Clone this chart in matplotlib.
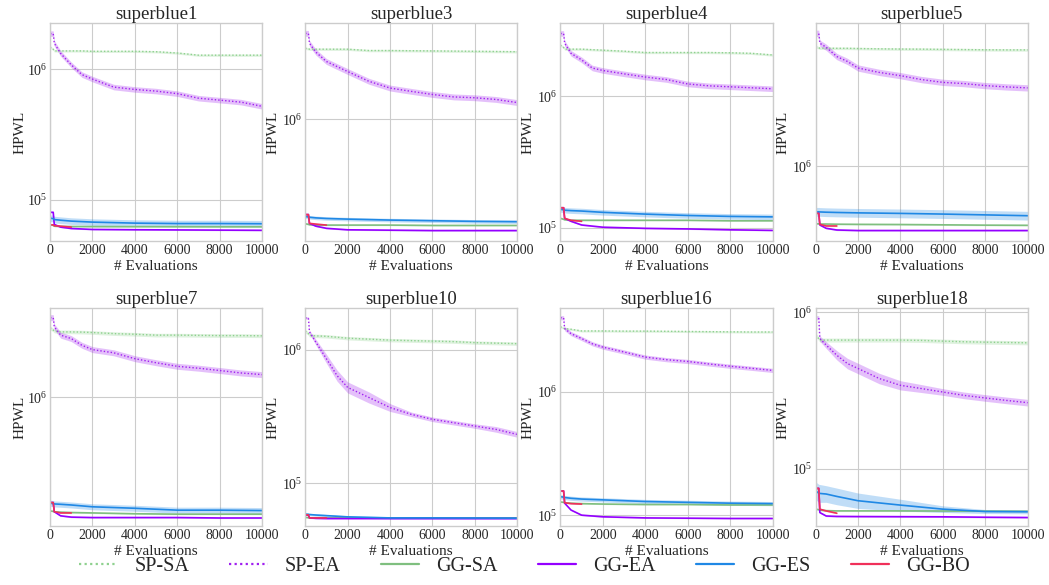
import numpy as np
import matplotlib
matplotlib.use('Agg')
import matplotlib.pyplot as plt
from matplotlib.ticker import NullFormatter

plt.style.use('seaborn-v0_8-whitegrid')
plt.rcParams['font.family'] = ['Liberation Serif', 'DejaVu Serif']
plt.rcParams['mathtext.fontset'] = 'stix'

# benchmark names (panel order)
panels = ['superblue1', 'superblue3', 'superblue4', 'superblue5',
          'superblue7', 'superblue10', 'superblue16', 'superblue18']
methods = ['SP-SA', 'SP-EA', 'GG-SA', 'GG-EA', 'GG-ES', 'GG-BO']

# evaluation checkpoints
x_sp = [0, 150, 200, 500, 1000, 1500, 2000, 3000, 4000, 5000, 6000, 7000, 8000, 9000, 10000]
x_gg = [0, 150, 200, 500, 1000, 2000, 4000, 6000, 8000, 10000]
x_bo = [0, 150, 200, 500, 1000]

# mean HPWL per panel
sp_sa = [
    [1.48e6, 1.42e6, 1.38e6, 1.38e6, 1.38e6, 1.38e6, 1.37e6, 1.37e6, 1.37e6, 1.36e6, 1.33e6, 1.28e6, 1.28e6, 1.28e6, 1.28e6],
    [3.25e6, 3.22e6, 3.2e6, 3.2e6, 3.2e6, 3.2e6, 3.2e6, 3.13e6, 3.13e6, 3.12e6, 3.11e6, 3.1e6, 3.09e6, 3.08e6, 3.07e6],
    [2.45e6, 2.35e6, 2.28e6, 2.28e6, 2.28e6, 2.26e6, 2.24e6, 2.2e6, 2.15e6, 2.15e6, 2.15e6, 2.15e6, 2.14e6, 2.12e6, 2.06e6],
    [6.37e6, 6.25e6, 6.21e6, 6.21e6, 6.2e6, 6.2e6, 6.18e6, 6.15e6, 6.13e6, 6.12e6, 6.1e6, 6.08e6, 6.06e6, 6.05e6, 6.05e6],
    [3.11e6, 3.0e6, 2.95e6, 2.91e6, 2.91e6, 2.9e6, 2.88e6, 2.83e6, 2.8e6, 2.76e6, 2.76e6, 2.75e6, 2.74e6, 2.74e6, 2.73e6],
    [1.38e6, 1.32e6, 1.28e6, 1.27e6, 1.26e6, 1.24e6, 1.22e6, 1.2e6, 1.18e6, 1.17e6, 1.16e6, 1.15e6, 1.13e6, 1.12e6, 1.11e6],
    [3.36e6, 3.28e6, 3.25e6, 3.21e6, 3.11e6, 3.11e6, 3.11e6, 3.1e6, 3.1e6, 3.09e6, 3.08e6, 3.07e6, 3.06e6, 3.05e6, 3.05e6],
    [7.16e5, 6.8e5, 6.65e5, 6.65e5, 6.65e5, 6.65e5, 6.65e5, 6.65e5, 6.65e5, 6.62e5, 6.55e5, 6.49e5, 6.45e5, 6.42e5, 6.39e5],
]
sp_ea = [
    [1.87e6, 1.87e6, 1.58e6, 1.32e6, 1.08e6, 9.1e5, 8.4e5, 7.3e5, 7.0e5, 6.8e5, 6.5e5, 6.0e5, 5.8e5, 5.6e5, 5.2e5],
    [4.16e6, 4.16e6, 3.53e6, 3.05e6, 2.61e6, 2.40e6, 2.21e6, 1.88e6, 1.68e6, 1.59e6, 1.51e6, 1.45e6, 1.43e6, 1.39e6, 1.32e6],
    [3.0e6, 3.0e6, 2.53e6, 2.12e6, 1.89e6, 1.64e6, 1.57e6, 1.48e6, 1.40e6, 1.34e6, 1.24e6, 1.20e6, 1.18e6, 1.16e6, 1.14e6],
    [7.82e6, 7.82e6, 6.71e6, 6.3e6, 5.46e6, 5.06e6, 4.57e6, 4.27e6, 4.06e6, 3.82e6, 3.66e6, 3.59e6, 3.48e6, 3.41e6, 3.36e6],
    [3.67e6, 3.67e6, 3.16e6, 2.76e6, 2.61e6, 2.34e6, 2.18e6, 2.07e6, 1.88e6, 1.76e6, 1.66e6, 1.61e6, 1.55e6, 1.49e6, 1.45e6],
    [1.73e6, 1.73e6, 1.36e6, 1.14e6, 8.55e5, 6.4e5, 5.22e5, 4.39e5, 3.69e5, 3.28e5, 3.01e5, 2.84e5, 2.68e5, 2.53e5, 2.32e5],
    [3.98e6, 3.98e6, 3.25e6, 2.96e6, 2.70e6, 2.45e6, 2.30e6, 2.10e6, 1.91e6, 1.82e6, 1.76e6, 1.68e6, 1.61e6, 1.55e6, 1.49e6],
    [9.24e5, 9.24e5, 6.8e5, 6.18e5, 5.32e5, 4.71e5, 4.38e5, 3.78e5, 3.42e5, 3.26e5, 3.1e5, 2.95e5, 2.84e5, 2.74e5, 2.65e5],
]
gg_sa = [
    [6.45e4, 6.4e4, 6.3e4, 6.28e4, 6.27e4, 6.26e4, 6.25e4, 6.25e4, 6.24e4, 6.24e4],
    [1.77e5, 1.75e5, 1.74e5, 1.73e5, 1.73e5, 1.73e5, 1.73e5, 1.72e5, 1.72e5, 1.72e5],
    [1.18e5, 1.16e5, 1.15e5, 1.14e5, 1.14e5, 1.14e5, 1.14e5, 1.14e5, 1.13e5, 1.13e5],
    [4.1e5, 4.09e5, 4.08e5, 4.08e5, 4.07e5, 4.06e5, 4.05e5, 4.03e5, 4.01e5, 4.0e5],
    [1.57e5, 1.56e5, 1.55e5, 1.54e5, 1.53e5, 1.52e5, 1.50e5, 1.49e5, 1.49e5, 1.49e5],
    [5.55e4, 5.52e4, 5.5e4, 5.5e4, 5.5e4, 5.5e4, 5.5e4, 5.5e4, 5.5e4, 5.5e4],
    [1.28e5, 1.27e5, 1.26e5, 1.25e5, 1.24e5, 1.23e5, 1.22e5, 1.22e5, 1.21e5, 1.21e5],
    [5.54e4, 5.5e4, 5.46e4, 5.42e4, 5.4e4, 5.4e4, 5.4e4, 5.39e4, 5.38e4, 5.37e4],
]
gg_ea = [
    [8.05e4, 8.05e4, 6.5e4, 6.2e4, 6.05e4, 5.95e4, 5.92e4, 5.9e4, 5.88e4, 5.86e4],
    [2.06e5, 2.06e5, 1.78e5, 1.7e5, 1.64e5, 1.60e5, 1.59e5, 1.58e5, 1.58e5, 1.58e5],
    [1.42e5, 1.42e5, 1.18e5, 1.12e5, 1.05e5, 1.01e5, 9.9e4, 9.8e4, 9.65e4, 9.55e4],
    [4.86e5, 4.86e5, 4.02e5, 3.82e5, 3.72e5, 3.69e5, 3.69e5, 3.69e5, 3.69e5, 3.69e5],
    [1.80e5, 1.80e5, 1.55e5, 1.45e5, 1.42e5, 1.41e5, 1.41e5, 1.41e5, 1.40e5, 1.40e5],
    [5.77e4, 5.77e4, 5.5e4, 5.46e4, 5.44e4, 5.44e4, 5.44e4, 5.44e4, 5.44e4, 5.44e4],
    [1.57e5, 1.57e5, 1.25e5, 1.10e5, 1.0e5, 9.7e4, 9.5e4, 9.45e4, 9.4e4, 9.4e4],
    [7.52e4, 7.52e4, 5.27e4, 5.01e4, 4.98e4, 4.97e4, 4.96e4, 4.95e4, 4.92e4, 4.9e4],
]
gg_es = [
    [7.26e4, 7.2e4, 7.08e4, 7.0e4, 6.89e4, 6.77e4, 6.65e4, 6.6e4, 6.6e4, 6.58e4],
    [1.99e5, 1.98e5, 1.97e5, 1.95e5, 1.93e5, 1.91e5, 1.88e5, 1.86e5, 1.84e5, 1.83e5],
    [1.38e5, 1.37e5, 1.36e5, 1.35e5, 1.34e5, 1.31e5, 1.27e5, 1.24e5, 1.22e5, 1.21e5],
    [4.93e5, 4.93e5, 4.92e5, 4.9e5, 4.88e5, 4.85e5, 4.81e5, 4.76e5, 4.70e5, 4.64e5],
    [1.78e5, 1.77e5, 1.76e5, 1.75e5, 1.73e5, 1.68e5, 1.64e5, 1.59e5, 1.59e5, 1.58e5],
    [5.87e4, 5.85e4, 5.83e4, 5.78e4, 5.72e4, 5.6e4, 5.5e4, 5.5e4, 5.49e4, 5.48e4],
    [1.41e5, 1.40e5, 1.39e5, 1.37e5, 1.35e5, 1.33e5, 1.29e5, 1.27e5, 1.25e5, 1.24e5],
    [7.26e4, 7.0e4, 6.98e4, 6.92e4, 6.68e4, 6.27e4, 5.88e4, 5.54e4, 5.35e4, 5.33e4],
]
gg_bo = [
    [6.45e4, 6.45e4, 6.35e4, 6.3e4, 6.2e4],
    [2.06e5, 2.06e5, 1.78e5, 1.76e5, 1.73e5],
    [1.42e5, 1.42e5, 1.18e5, 1.14e5, 1.12e5],
    [4.81e5, 4.81e5, 4.06e5, 3.96e5, 3.96e5],
    [1.80e5, 1.80e5, 1.55e5, 1.52e5, 1.52e5],
    [5.8e4, 5.8e4, 5.5e4, 5.5e4, 5.5e4],
    [1.57e5, 1.57e5, 1.26e5, 1.24e5, 1.23e5],
    [7.52e4, 7.52e4, 5.54e4, 5.4e4, 5.22e4],
]

# spread of the shaded band (multiplicative factor around the mean)
sp_sa_spread = [1.02, 1.02, 1.02, 1.02, 1.03, 1.03, 1.02, 1.03]
sp_ea_spread = [1.05, 1.05, 1.05, 1.05, 1.05,
                [1.02, 1.02, 1.03, 1.05, 1.08, 1.10, 1.10, 1.10, 1.07, 1.04, 1.04, 1.04, 1.04, 1.05, 1.05],
                1.04,
                [1.03, 1.03, 1.04, 1.05, 1.07, 1.08, 1.08, 1.08, 1.07, 1.06, 1.05, 1.05, 1.05, 1.05, 1.05]]
gg_sa_spread = [1.01, 1.01, 1.01, 1.01, 1.01, 1.01, 1.01, 1.01]
gg_ea_spread = [1.01, 1.01, 1.01, 1.01, 1.01, 1.01, 1.01, 1.01]
gg_es_spread = [1.06, 1.03, 1.05, 1.07, 1.05, 1.02, 1.04,
                [1.14, 1.14, 1.14, 1.13, 1.13, 1.12, 1.09, 1.05, 1.03, 1.03]]
gg_bo_spread = [1.01, 1.01, 1.01, 1.01, 1.01, 1.01, 1.01, 1.01]

# y limits of each panel
y_limits = [(4.86e4, 2.24e6), (1.33e5, 4.91e6), (7.94e4, 3.58e6), (3.14e5, 9.12e6),
            (1.23e5, 4.27e6), (4.79e4, 2.04e6), (8.18e4, 4.74e6), (4.33e4, 1.06e6)]

colors = {'SP-SA': '#8fd18f', 'SP-EA': '#a020f0', 'GG-SA': '#7fbf7f',
          'GG-EA': '#9400ff', 'GG-ES': '#1f88e5', 'GG-BO': '#f0305a'}
dotted = (0, (1, 1.5))
styles = {'SP-SA': dotted, 'SP-EA': dotted, 'GG-SA': '-', 'GG-EA': '-', 'GG-ES': '-', 'GG-BO': '-'}

fig, axes = plt.subplots(2, 4, figsize=(10.49, 5.85), dpi=100)
plt.subplots_adjust(left=0.0477, right=0.9797, top=0.960, bottom=0.101, wspace=0.203, hspace=0.31)

for i, ax in enumerate(axes.flat):
    series = [
        ('SP-SA', x_sp, sp_sa[i], sp_sa_spread[i]),
        ('SP-EA', x_sp, sp_ea[i], sp_ea_spread[i]),
        ('GG-SA', x_gg, gg_sa[i], gg_sa_spread[i]),
        ('GG-EA', x_gg, gg_ea[i], gg_ea_spread[i]),
        ('GG-ES', x_gg, gg_es[i], gg_es_spread[i]),
        ('GG-BO', x_bo, gg_bo[i], gg_bo_spread[i]),
    ]
    for name, xs, ys, sp in series:
        ys = np.asarray(ys)
        sp = np.asarray(sp)
        c = colors[name]
        lw = 1.0 if name.startswith('SP') else 1.2
        ax.fill_between(xs, ys / sp, ys * sp, color=c, alpha=0.28, linewidth=0)
        ax.plot(xs, ys, linestyle=styles[name], color=c, linewidth=lw, label=name)
    ax.set_yscale('log')
    ax.set_xlim(0, 10000)
    ax.set_ylim(*y_limits[i])
    ax.set_xticks([0, 2000, 4000, 6000, 8000, 10000])
    ax.yaxis.set_minor_formatter(NullFormatter())
    ax.tick_params(labelsize=10, pad=2)
    ax.set_title(panels[i], fontsize=13.5, pad=3)
    ax.set_xlabel('# Evaluations', fontsize=11, labelpad=2.5)
    # first column sits a bit closer to its tick labels in the original
    ax.set_ylabel('HPWL', fontsize=11, labelpad=0 if i % 4 == 0 else 2)

handles, labels = axes.flat[0].get_legend_handles_labels()
leg = fig.legend(handles, labels, loc='lower center', ncol=6, frameon=False, fontsize=14.5,
                 bbox_to_anchor=(0.5, -0.015), handlelength=1.9, handletextpad=0.85,
                 columnspacing=2.0)
for line in leg.get_lines():
    line.set_linewidth(1.6)

fig.savefig('out.png', dpi=100)
